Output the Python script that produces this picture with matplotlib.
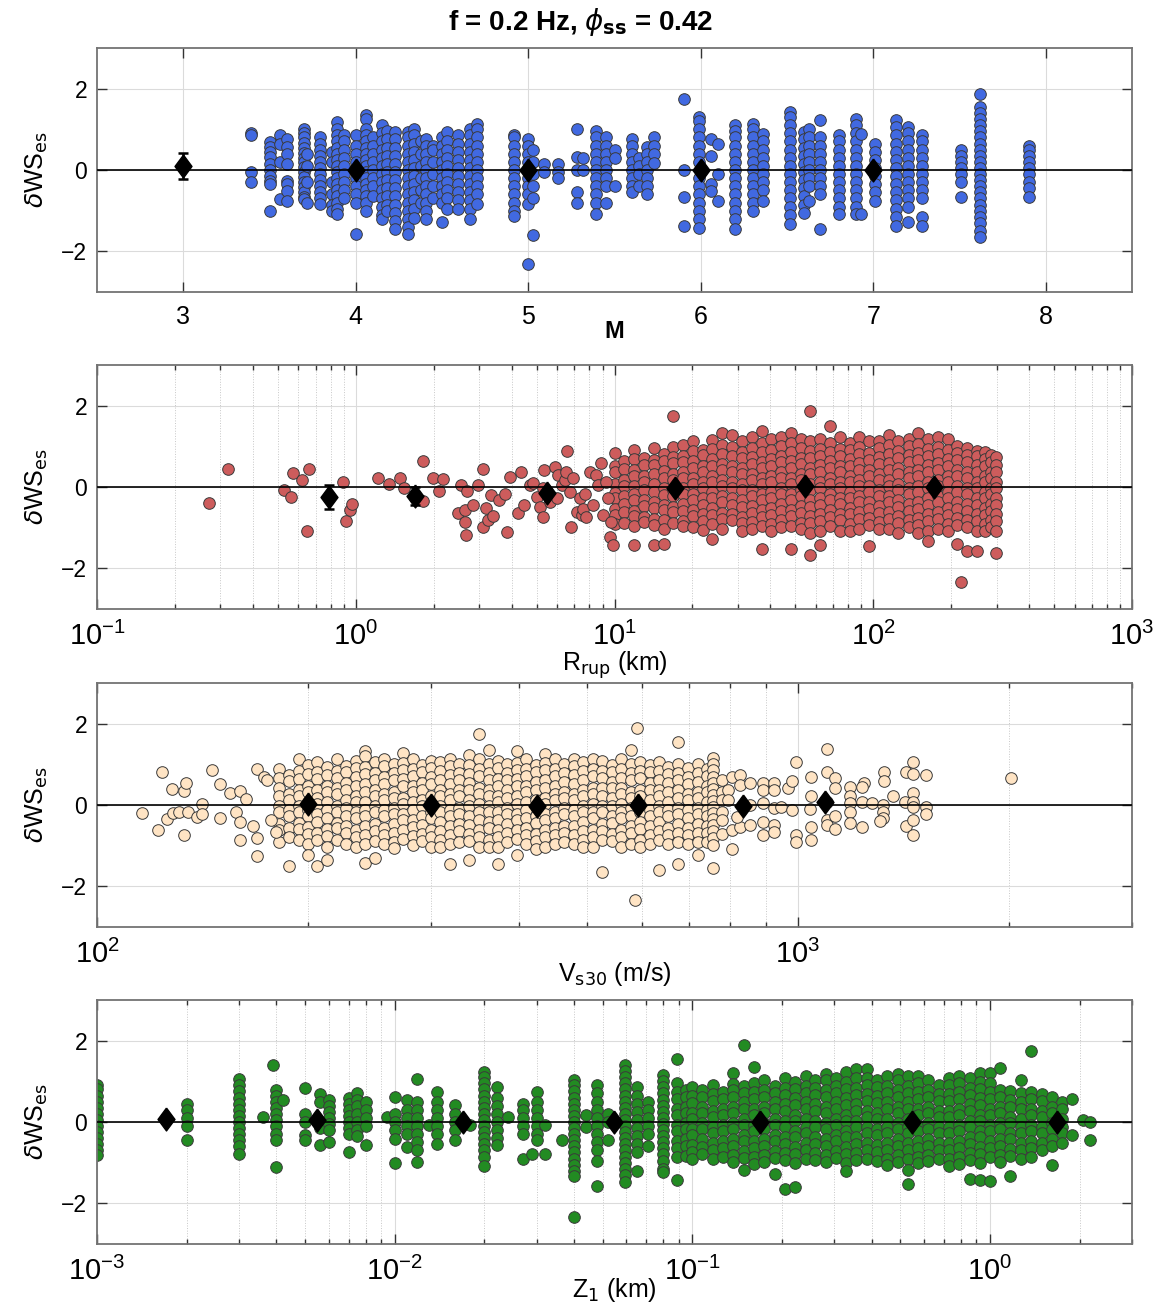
import numpy as np
import matplotlib
matplotlib.use("Agg")
import matplotlib.pyplot as plt
from matplotlib.ticker import LogLocator, NullFormatter

plt.rcParams["font.family"] = ["Liberation Sans", "DejaVu Sans"]
plt.rcParams["mathtext.fontset"] = "dejavusans"

# ---------------- panel 1: M (columns of residuals per magnitude) ----------------
mag_cols = [
    (3.39, [0.9, 0.86, -0.06, -0.3]),
    (3.50, [0.68, 0.56, 0.44, 0.31, 0.15, 0.0, -0.14, -0.26, -0.35, -1.02]),
    (3.56, [0.85, 0.64, 0.19, -0.72]),
    (3.60, [0.77, 0.56, 0.4, 0.15, -0.26, -0.35, -0.51, -0.77]),
    (3.70, [1.0, 0.9, 0.8, 0.66, 0.55, 0.42, 0.3, 0.2, 0.08, -0.05, -0.18, -0.3, -0.42, -0.55, -0.66, -0.72]),
    (3.72, [0.4, 0.1, -0.3, -0.8]),
    (3.79, [0.8, 0.65, 0.5, 0.35, 0.2, 0.05, -0.1, -0.25, -0.4, -0.55, -0.7, -0.84]),
    (3.86, [0.45, 0.2, -0.3, -0.6, -0.85, -1.0]),
    (3.89, [1.18, 1.0, 0.85, 0.7, 0.55, 0.4, 0.25, 0.1, -0.05, -0.2, -0.35, -0.5, -0.65, -0.8, -0.95, -1.09]),
    (3.93, [0.85, 0.7, 0.5, 0.3, 0.1, -0.1, -0.3, -0.5, -0.7]),
    (4.00, [0.85, 0.6, 0.4, 0.2, -0.2, -0.4, -0.6, -0.8, -1.58]),
    (4.06, [1.34, 1.25, 1.0, 0.85, 0.7, 0.55, 0.4, 0.25, 0.1, -0.05, -0.2, -0.35, -0.5, -0.65, -0.8, -1.0]),
    (4.10, [0.8, 0.6, 0.4, 0.2, 0.0, -0.2, -0.4, -0.63]),
    (4.15, [1.1, 0.9, 0.7, 0.5, 0.3, 0.1, -0.1, -0.3, -0.5, -0.7, -0.9, -1.1, -1.2]),
    (4.18, [0.95, 0.75, 0.55, 0.35, 0.15, -0.05, -0.25, -0.45, -0.65, -0.85, -1.0]),
    (4.23, [0.93, 0.75, 0.55, 0.35, 0.15, -0.05, -0.25, -0.45, -0.65, -0.85, -1.05, -1.25, -1.46]),
    (4.30, [0.93, 0.8, 0.6, 0.4, 0.2, 0.0, -0.2, -0.4, -0.6, -0.8, -1.0, -1.2, -1.4, -1.58]),
    (4.34, [1.0, 0.85, 0.65, 0.45, 0.25, 0.05, -0.15, -0.35, -0.55, -0.75, -0.95, -1.17]),
    (4.38, [0.7, 0.4, 0.1, -0.2, -0.5, -0.8]),
    (4.41, [0.77, 0.6, 0.4, 0.2, 0.0, -0.2, -0.4, -0.6, -0.8, -1.0, -1.21]),
    (4.45, [0.6, 0.5, 0.2, -0.1, -0.4, -0.7]),
    (4.50, [0.8, 0.6, 0.4, 0.2, 0.0, -0.2, -0.4, -0.6, -0.8, -1.29]),
    (4.53, [0.93, 0.7, 0.5, 0.3, 0.1, -0.1, -0.3, -0.5, -0.7, -0.96]),
    (4.59, [0.85, 0.65, 0.45, 0.25, 0.05, -0.15, -0.35, -0.55, -0.75, -0.96]),
    (4.66, [1.01, 0.85, 0.65, 0.45, 0.25, 0.05, -0.15, -0.35, -0.55, -0.75, -0.95, -1.21]),
    (4.70, [1.14, 1.0, 0.8, 0.6, 0.4, 0.2, 0.0, -0.2, -0.4, -0.6, -0.84]),
    (4.92, [0.85, 0.8, 0.6, 0.4, 0.2, 0.0, -0.2, -0.4, -0.6, -0.8, -1.0, -1.13]),
    (5.00, [0.77, 0.6, 0.4, 0.2, 0.0, -0.2, -0.4, -0.6, -0.84, -2.32]),
    (5.03, [0.5, 0.2, -0.1, -0.4, -0.68, -1.6]),
    (5.09, [0.15, -0.05]),
    (5.17, [0.15, -0.05, -0.2]),
    (5.28, [1.01, 0.32, 0.0, -0.55, -0.8]),
    (5.32, [0.3, 0.0]),
    (5.39, [0.97, 0.8, 0.6, 0.4, 0.2, 0.0, -0.2, -0.4, -0.6, -0.8, -1.09]),
    (5.45, [0.8, 0.6, 0.4, 0.2, 0.0, -0.2, -0.4, -0.8]),
    (5.50, [0.48, 0.3, -0.39]),
    (5.60, [0.77, 0.6, 0.4, 0.2, 0.0, -0.2, -0.4, -0.55]),
    (5.64, [0.3, 0.1, -0.1, -0.39]),
    (5.69, [0.56, 0.4, 0.2, 0.0, -0.2, -0.4, -0.59]),
    (5.73, [0.81, 0.6, 0.4, 0.18]),
    (5.90, [1.75, 0.0, -0.67, -1.37]),
    (5.99, [1.3, 1.2, 1.0, 0.8, 0.6, 0.4, 0.2, -0.2, -0.4, -0.6, -0.8, -1.0, -1.2, -1.42]),
    (6.06, [0.76, 0.35, -0.35, -0.51]),
    (6.10, [0.64, -0.1, -0.76]),
    (6.20, [1.1, 0.95, 0.8, 0.6, 0.4, 0.2, 0.0, -0.2, -0.4, -0.6, -0.8, -1.0, -1.2, -1.46]),
    (6.30, [1.14, 1.0, 0.8, 0.6, 0.4, 0.2, 0.0, -0.2, -0.4, -0.6, -0.8, -1.0]),
    (6.36, [0.89, 0.7, 0.5, 0.3, 0.1, -0.1, -0.3, -0.5, -0.76]),
    (6.52, [1.42, 1.3, 1.1, 0.9, 0.7, 0.5, 0.3, 0.1, -0.1, -0.3, -0.5, -0.7, -0.9, -1.1, -1.33]),
    (6.60, [0.93, 0.75, 0.55, 0.35, 0.15, -0.05, -0.25, -0.45, -0.65, -0.85, -1.05]),
    (6.63, [1.0, 0.8, 0.6, 0.4, 0.2, 0.0, -0.2, -0.4, -0.76]),
    (6.69, [1.23, 0.8, 0.6, 0.4, 0.2, 0.0, -0.2, -0.4, -0.6, -1.46]),
    (6.80, [0.85, 0.7, 0.5, 0.3, 0.1, -0.1, -0.3, -0.5, -0.7, -0.9, -1.09]),
    (6.90, [1.26, 1.1, 0.9, 0.7, 0.5, 0.3, 0.1, -0.1, -0.3, -0.5, -0.7, -0.9, -1.09]),
    (6.93, [0.89, -1.09]),
    (7.01, [0.64, 0.45, 0.25, 0.05, -0.15, -0.35, -0.55, -0.76]),
    (7.13, [1.22, 1.05, 0.85, 0.65, 0.45, 0.25, 0.05, -0.15, -0.35, -0.55, -0.75, -0.95, -1.15, -1.37]),
    (7.20, [1.05, 0.9, 0.7, 0.5, 0.3, 0.1, -0.1, -0.3, -0.5, -0.7, -0.9, -1.29]),
    (7.28, [0.85, 0.7, 0.5, 0.3, 0.1, -0.1, -0.3, -0.5, -0.7, -1.15, -1.37]),
    (7.51, [0.48, 0.35, 0.2, 0.05, -0.1, -0.3, -0.67]),
    (7.62, [1.88, 1.55, 1.4, 1.25, 1.1, 0.95, 0.8, 0.65, 0.5, 0.35, 0.2, 0.05, -0.1, -0.25,
            -0.4, -0.55, -0.7, -0.85, -1.0, -1.15, -1.3, -1.5, -1.66]),
    (7.90, [0.6, 0.5, 0.35, 0.2, 0.05, -0.1, -0.3, -0.45, -0.67]),
]
mag_bin_x = [3, 4, 5, 6, 7]
mag_bin_y = [0.09, 0.0, 0.0, 0.0, 0.0]
mag_bin_err = [0.32, 0.04, 0.05, 0.04, 0.04]

# ---------------- panel 2: Rrup (km) ----------------
rrup_pts = [
    (0.27, -0.40), (0.32, 0.44), (0.53, -0.07), (0.56, -0.24), (0.57, 0.34), (0.62, 0.17),
    (0.65, -1.09), (0.66, 0.44), (0.89, 0.13), (0.92, -0.84), (0.95, -0.57), (0.97, -0.42),
    (1.22, 0.23), (1.35, 0.08), (1.48, 0.21), (1.54, -0.02), (1.82, 0.65), (1.82, -0.35),
    (1.98, 0.23), (2.10, -0.10), (2.18, 0.20), (2.49, -0.63), (2.56, 0.05), (2.64, -0.57),
    (2.65, -0.87), (2.66, -1.17), (2.70, -0.10), (2.84, -0.44), (2.98, 0.05), (3.09, 0.44),
    (3.11, -0.98), (3.18, -0.51), (3.25, -0.81), (3.33, -0.20), (3.40, -0.71), (3.58, -0.32),
    (3.77, -0.16), (3.83, -1.10), (3.93, 0.24), (4.23, -0.63), (4.34, 0.38), (4.47, -0.44),
    (4.71, 0.05), (4.85, 0.09), (5.00, -0.24), (5.15, -0.49), (5.27, -0.73), (5.31, -0.03),
    (5.36, 0.42), (5.62, -0.36), (5.89, 0.50), (5.97, -0.28), (6.07, 0.30), (6.24, 0.05),
    (6.43, 0.17), (6.49, 0.38), (6.53, 0.89), (6.72, -0.12), (6.80, -0.99), (6.90, 0.21),
    (7.13, -0.61), (7.34, -0.28), (7.46, -0.69), (7.55, -0.53), (7.68, -0.16), (7.78, -0.73),
    (8.03, 0.38), (8.27, -0.44), (8.50, 0.30), (8.65, 0.05), (8.90, 0.58), (9.04, -0.69),
    (9.30, 0.13), (9.46, -0.28), (9.60, -1.23), (9.73, -0.86), (9.90, -1.43), (218, -2.34),
]
rrup_cols = [
    (10.0, [0.83, 0.52, 0.38, 0.07, -0.14, -0.27, -0.53, -0.68, -0.91]),
    (10.9, [0.63, 0.44, 0.17, 0.03, -0.22, -0.41, -0.62, -0.88]),
    (11.9, [0.91, 0.68, 0.41, 0.28, 0.02, -0.18, -0.33, -0.58, -0.72, -0.97, -1.43]),
    (13.0, [0.72, 0.54, 0.27, 0.12, -0.08, -0.33, -0.47, -0.73, -0.86]),
    (14.2, [0.97, 0.66, 0.53, 0.31, 0.08, -0.12, -0.38, -0.52, -0.78, -0.93, -1.43]),
    (15.5, [0.82, 0.63, 0.39, 0.22, -0.03, -0.19, -0.43, -0.57, -0.82, -1.02, -1.39]),
    (16.9, [1.74, 0.98, 0.73, 0.58, 0.33, 0.17, -0.07, -0.23, -0.48, -0.62, -0.88]),
    (18.4, [1.03, 0.77, 0.62, 0.37, 0.22, -0.02, -0.17, -0.42, -0.58, -0.83, -0.97]),
    (20.1, [1.12, 0.88, 0.63, 0.48, 0.23, 0.08, -0.18, -0.32, -0.57, -0.72, -0.98]),
    (21.9, [0.92, 0.78, 0.52, 0.37, 0.12, -0.03, -0.28, -0.43, -0.67, -0.83, -1.06]),
    (23.9, [1.16, 0.93, 0.68, 0.52, 0.27, 0.12, -0.12, -0.27, -0.52, -0.68, -0.92, -1.27]),
    (26.1, [1.33, 1.03, 0.82, 0.57, 0.42, 0.18, 0.03, -0.22, -0.38, -0.63, -0.78, -1.02]),
    (28.5, [1.28, 0.98, 0.77, 0.52, 0.37, 0.13, -0.03, -0.27, -0.43, -0.67, -0.82]),
    (31.1, [1.12, 0.87, 0.72, 0.47, 0.32, 0.07, -0.08, -0.33, -0.48, -0.73, -0.88, -1.07]),
    (33.9, [1.22, 0.97, 0.73, 0.57, 0.33, 0.17, -0.07, -0.22, -0.47, -0.63, -0.87, -1.02]),
    (37.0, [1.37, 1.08, 0.87, 0.62, 0.47, 0.22, 0.07, -0.17, -0.33, -0.57, -0.73, -0.97, -1.53]),
    (40.4, [1.17, 0.92, 0.68, 0.52, 0.28, 0.12, -0.12, -0.28, -0.52, -0.68, -0.92, -1.08]),
    (44.0, [1.23, 1.02, 0.77, 0.62, 0.37, 0.22, -0.03, -0.18, -0.42, -0.58, -0.82, -0.98]),
    (48.0, [1.33, 1.08, 0.87, 0.63, 0.47, 0.23, 0.07, -0.17, -0.33, -0.57, -0.72, -0.97, -1.53]),
    (52.4, [1.18, 0.97, 0.72, 0.57, 0.32, 0.17, -0.08, -0.23, -0.47, -0.63, -0.88, -1.03]),
    (57.2, [1.86, 1.12, 0.88, 0.72, 0.48, 0.32, 0.08, -0.08, -0.32, -0.48, -0.72, -0.88, -1.12, -1.66]),
    (62.4, [1.17, 0.93, 0.77, 0.53, 0.37, 0.13, -0.03, -0.27, -0.43, -0.67, -0.83, -1.07, -1.43]),
    (68.1, [1.51, 1.08, 0.87, 0.63, 0.47, 0.23, 0.07, -0.17, -0.33, -0.57, -0.73, -0.97]),
    (74.3, [1.22, 0.93, 0.77, 0.52, 0.37, 0.12, -0.03, -0.27, -0.42, -0.67, -0.82, -1.07]),
    (81.0, [1.08, 0.92, 0.68, 0.52, 0.28, 0.12, -0.12, -0.27, -0.52, -0.67, -0.92, -1.08]),
    (88.4, [1.22, 0.98, 0.82, 0.58, 0.42, 0.18, 0.02, -0.22, -0.38, -0.62, -0.78, -1.02]),
    (96.5, [1.12, 0.83, 0.67, 0.43, 0.27, 0.03, -0.13, -0.37, -0.53, -0.77, -0.93, -1.45]),
    (105, [1.13, 0.97, 0.73, 0.57, 0.33, 0.17, -0.07, -0.23, -0.47, -0.63, -0.87, -1.03]),
    (115, [1.28, 1.03, 0.82, 0.58, 0.42, 0.18, 0.02, -0.22, -0.38, -0.62, -0.78, -1.02]),
    (125, [1.12, 0.88, 0.72, 0.48, 0.32, 0.08, -0.08, -0.32, -0.48, -0.72, -0.88, -1.12]),
    (137, [1.18, 1.02, 0.78, 0.62, 0.38, 0.22, -0.02, -0.18, -0.42, -0.58, -0.82, -0.98]),
    (149, [1.33, 1.07, 0.83, 0.67, 0.43, 0.27, 0.03, -0.13, -0.37, -0.53, -0.77, -0.93, -1.12]),
    (163, [1.17, 0.93, 0.77, 0.53, 0.37, 0.13, -0.03, -0.27, -0.43, -0.67, -0.83, -1.07, -1.33]),
    (178, [1.22, 0.98, 0.82, 0.58, 0.42, 0.18, 0.02, -0.22, -0.38, -0.62, -0.78, -1.02]),
    (194, [1.18, 0.92, 0.68, 0.52, 0.28, 0.12, -0.12, -0.28, -0.52, -0.68, -0.92, -1.08]),
    (211, [1.02, 0.83, 0.67, 0.43, 0.27, 0.03, -0.13, -0.37, -0.53, -0.77, -0.93, -1.39]),
    (231, [0.97, 0.78, 0.62, 0.38, 0.22, -0.02, -0.18, -0.42, -0.58, -0.82, -0.98, -1.58]),
    (252, [0.88, 0.77, 0.53, 0.37, 0.13, -0.03, -0.27, -0.43, -0.67, -0.83, -1.07, -1.58]),
    (270, [0.86, 0.68, 0.52, 0.28, 0.12, -0.12, -0.28, -0.52, -0.68, -0.92, -1.08]),
    (285, [0.78, 0.62, 0.38, 0.22, -0.02, -0.18, -0.42, -0.58, -0.82, -0.98]),
    (297, [0.74, 0.53, 0.37, 0.13, -0.03, -0.27, -0.43, -0.67, -0.83, -1.07, -1.61]),
]
rrup_bin_x = [0.79, 1.69, 5.46, 17.2, 54.6, 172]
rrup_bin_y = [-0.25, -0.22, -0.15, -0.02, 0.02, 0.01]
rrup_bin_err = [0.29, 0.22, 0.08, 0.03, 0.02, 0.02]

# ---------------- panel 3: Vs30 (m/s) ----------------
vs30_pts = [
    (116, -0.19), (122, -0.62), (124, 0.80), (126, -0.35), (128, 0.40), (128.3, -0.19),
    (131, -0.16), (133, 0.35), (133, -0.74), (134, 0.53), (135, -0.16), (139, -0.29),
    (141, 0.02), (141, -0.23), (146, 0.85), (150, 0.51), (150, -0.31), (155, 0.30),
    (158, -0.16), (160, 0.35), (160, -0.41), (160, -0.85), (163, 0.14), (167, -0.52),
    (169, 0.88), (169, -0.80), (169, -1.26), (173, 0.70), (175, 0.62), (177, -0.37),
    (180, -0.66), (589, 1.89), (586, -2.33),
    (796, 0.37), (796, 0.12), (805, 0.70), (805, -0.62), (805, -1.09), (828, 0.74),
    (828, 0.49), (828, -0.53), (818, -0.29), (855, 0.53), (855, -0.49), (855, 0.0),
    (893, 0.53), (893, 0.37), (893, 0.04), (893, -0.41), (893, -0.74), (926, 0.55),
    (926, 0.37), (926, -0.08), (926, -0.49), (926, -0.66), (948, -0.04), (968, 0.41),
    (980, 0.58), (983, -0.12), (995, 1.07), (995, -0.74), (995, -0.91), (1045, 0.70),
    (1045, 0.21), (1045, -0.55), (1045, -0.85), (1040, -0.11), (1100, 1.38), (1100, 0.82),
    (1100, 0.08), (1100, -0.37), (1100, -0.49), (1131, 0.67), (1131, 0.41), (1131, -0.27),
    (1131, -0.60), (1188, 0.45), (1188, 0.21), (1188, 0.04), (1188, -0.16), (1188, -0.45),
    (1242, 0.53), (1236, 0.44), (1236, 0.08), (1236, -0.55), (1275, 0.06), (1327, 0.80),
    (1327, 0.58), (1325, 0.0), (1325, -0.16), (1325, -0.33), (1312, -0.39), (1369, 0.21),
    (1427, 0.80), (1427, -0.52), (1425, 0.08), (1462, 1.05), (1462, 0.77), (1462, 0.29),
    (1462, 0.08), (1462, -0.06), (1462, -0.37), (1462, -0.74), (1523, 0.74), (1523, -0.04),
    (1523, -0.23), (2016, 0.67),
]
vs30_cols = [
    (182, [0.88, 0.67, 0.42, 0.23, -0.03, -0.17, -0.46, -0.62, -0.92]),
    (188, [0.73, 0.58, 0.27, 0.12, -0.13, -0.28, -0.57, -0.78, -1.5]),
    (194, [1.13, 0.83, 0.63, 0.37, 0.22, -0.03, -0.18, -0.43, -0.58, -0.87]),
    (200, [0.98, 0.77, 0.47, 0.33, 0.07, -0.12, -0.27, -0.53, -0.72, -0.97, -1.22]),
    (206, [1.07, 0.82, 0.63, 0.38, 0.17, 0.03, -0.23, -0.42, -0.68, -0.87, -1.5]),
    (213, [0.93, 0.73, 0.48, 0.32, 0.07, -0.13, -0.33, -0.58, -0.77, -1.02, -1.36]),
    (220, [1.12, 0.83, 0.67, 0.42, 0.27, -0.03, -0.18, -0.43, -0.57, -0.87]),
    (227, [0.97, 0.82, 0.53, 0.37, 0.12, -0.07, -0.28, -0.52, -0.68, -0.97]),
    (234, [1.08, 0.92, 0.68, 0.47, 0.22, 0.07, -0.17, -0.33, -0.62, -0.78, -1.02]),
    (241, [1.34, 1.21, 0.93, 0.77, 0.52, 0.32, 0.08, -0.12, -0.28, -0.52, -0.73, -0.97, -1.42]),
    (249, [1.07, 0.78, 0.62, 0.38, 0.22, -0.03, -0.18, -0.47, -0.63, -0.88, -1.31]),
    (257, [1.13, 0.97, 0.68, 0.52, 0.27, 0.12, -0.12, -0.28, -0.57, -0.73, -0.97]),
    (265, [1.02, 0.78, 0.62, 0.33, 0.17, -0.07, -0.23, -0.47, -0.68, -0.92, -1.06]),
    (273, [1.29, 1.03, 0.87, 0.63, 0.47, 0.18, 0.02, -0.22, -0.38, -0.62, -0.83]),
    (282, [1.12, 0.88, 0.72, 0.47, 0.32, 0.07, -0.13, -0.37, -0.53, -0.77, -0.98]),
    (291, [0.98, 0.82, 0.53, 0.37, 0.13, -0.03, -0.27, -0.48, -0.72, -0.88]),
    (300, [1.08, 0.92, 0.68, 0.52, 0.23, 0.07, -0.17, -0.33, -0.62, -0.78, -1.02]),
    (309, [1.07, 0.83, 0.62, 0.37, 0.22, -0.03, -0.18, -0.42, -0.63, -0.87, -1.03]),
    (319, [1.13, 0.97, 0.73, 0.52, 0.28, 0.12, -0.12, -0.28, -0.52, -0.73, -0.97, -1.44]),
    (329, [1.02, 0.78, 0.62, 0.38, 0.22, -0.07, -0.23, -0.47, -0.63, -0.92]),
    (340, [1.23, 0.98, 0.77, 0.53, 0.37, 0.12, -0.03, -0.27, -0.48, -0.72, -0.88, -1.34]),
    (351, [1.75, 1.12, 0.88, 0.72, 0.43, 0.27, 0.03, -0.17, -0.38, -0.62, -0.78, -1.02]),
    (362, [1.36, 1.02, 0.78, 0.62, 0.37, 0.22, -0.03, -0.18, -0.42, -0.57, -0.87, -1.03]),
    (373, [1.08, 0.92, 0.63, 0.47, 0.22, 0.07, -0.17, -0.38, -0.62, -0.78, -1.02, -1.44]),
    (385, [1.02, 0.78, 0.62, 0.38, 0.17, -0.07, -0.23, -0.47, -0.68, -0.92]),
    (397, [1.32, 1.03, 0.87, 0.63, 0.47, 0.22, 0.02, -0.22, -0.38, -0.62, -0.83, -1.23]),
    (410, [1.12, 0.88, 0.72, 0.48, 0.32, 0.08, -0.12, -0.33, -0.57, -0.73, -0.97]),
    (423, [0.98, 0.82, 0.57, 0.37, 0.12, -0.03, -0.27, -0.43, -0.72, -0.88, -1.07]),
    (436, [1.26, 1.03, 0.87, 0.62, 0.42, 0.17, 0.02, -0.22, -0.38, -0.62, -0.78, -1.02]),
    (450, [1.12, 0.88, 0.72, 0.48, 0.28, 0.12, -0.17, -0.33, -0.57, -0.73, -0.97]),
    (464, [1.02, 0.78, 0.57, 0.33, 0.17, -0.07, -0.23, -0.52, -0.68, -0.92]),
    (479, [1.13, 0.97, 0.73, 0.52, 0.27, 0.12, -0.12, -0.28, -0.52, -0.73, -0.97]),
    (494, [1.07, 0.83, 0.62, 0.37, 0.22, -0.03, -0.18, -0.42, -0.63, -0.87, -1.03]),
    (510, [1.12, 0.88, 0.72, 0.43, 0.27, 0.03, -0.17, -0.33, -0.62, -0.78, -1.02]),
    (526, [1.09, 0.83, 0.67, 0.42, 0.22, -0.03, -0.18, -0.47, -0.63, -0.87, -1.65]),
    (543, [0.98, 0.82, 0.57, 0.42, 0.17, -0.03, -0.27, -0.43, -0.72, -0.88]),
    (560, [1.12, 0.88, 0.67, 0.43, 0.27, 0.03, -0.17, -0.33, -0.62, -0.78, -1.02]),
    (578, [1.36, 1.02, 0.78, 0.62, 0.33, 0.17, -0.07, -0.28, -0.52, -0.68, -0.97]),
    (596, [1.07, 0.83, 0.67, 0.38, 0.22, -0.03, -0.18, -0.42, -0.58, -0.87, -1.03]),
    (615, [0.98, 0.82, 0.53, 0.37, 0.12, -0.12, -0.28, -0.52, -0.73, -0.97]),
    (634, [1.07, 0.83, 0.62, 0.38, 0.22, -0.03, -0.18, -0.42, -0.63, -0.87, -1.6]),
    (654, [0.93, 0.77, 0.53, 0.32, 0.08, -0.12, -0.28, -0.57, -0.73, -0.97]),
    (675, [1.54, 1.02, 0.78, 0.62, 0.37, 0.17, -0.07, -0.23, -0.47, -0.68, -0.92, -1.44]),
    (697, [0.92, 0.68, 0.52, 0.28, 0.12, -0.12, -0.33, -0.57, -0.73, -0.97]),
    (720, [1.02, 0.78, 0.57, 0.33, 0.17, -0.07, -0.23, -0.47, -0.68, -0.92, -1.23]),
    (742, [0.88, 0.72, 0.48, 0.32, 0.08, -0.12, -0.28, -0.52, -0.68, -0.92]),
    (758, [1.15, 1.0, 0.85, 0.7, 0.55, 0.4, 0.25, 0.1, -0.05, -0.2, -0.35, -0.5, -0.65, -0.8, -0.99, -1.56]),
    (780, [0.62, 0.33, 0.12, -0.17, -0.38, -0.72]),
]
vs30_bin_x = [200, 300, 424, 591, 836, 1094]
vs30_bin_y = [0.02, 0.0, -0.02, 0.0, -0.02, 0.08]
vs30_bin_err = [0.04, 0.03, 0.03, 0.03, 0.04, 0.08]

# ---------------- panel 4: Z1 (km) ----------------
z1_pts = [(1.89, 0.57), (1.89, -0.33), (2.06, 0.04), (2.16, 0.0), (2.16, -0.45)]
z1_cols = [
    (0.001, [0.9, 0.8, 0.65, 0.5, 0.35, 0.2, 0.05, -0.1, -0.25, -0.4, -0.55, -0.7, -0.82]),
    (0.002, [0.44, 0.3, 0.1, -0.1, -0.45]),
    (0.003, [1.05, 0.9, 0.75, 0.6, 0.45, 0.3, 0.15, 0.0, -0.15, -0.3, -0.45, -0.6, -0.78]),
    (0.0036, [0.12]),
    (0.0039, [1.4]),
    (0.004, [0.78, 0.65, 0.5, 0.35, 0.2, 0.05, -0.1, -0.3, -0.45, -1.11]),
    (0.0042, [0.53]),
    (0.005, [0.84, 0.2, 0.0, -0.33, -0.45]),
    (0.0056, [0.68, 0.5, -0.16, -0.56]),
    (0.006, [0.53, 0.4, 0.25, 0.1, -0.05, -0.2, -0.49]),
    (0.007, [0.6, 0.45, 0.3, 0.15, 0.0, -0.15, -0.3, -0.74]),
    (0.0075, [0.72, 0.55, 0.4, 0.2, 0.0, -0.2, -0.35]),
    (0.008, [0.5, 0.3, 0.1, -0.1, -0.57]),
    (0.0094, [0.12]),
    (0.010, [0.62, 0.2, 0.0, -0.2, -0.41, -1.01]),
    (0.011, [0.53, 0.3, 0.1, -0.1, -0.3, -0.62]),
    (0.0119, [1.05, 0.49, 0.3, 0.1, -0.1, -0.3, -0.5, -0.7, -0.99]),
    (0.013, [-0.08]),
    (0.0139, [0.74, 0.5, 0.3, 0.1, -0.1, -0.3, -0.53]),
    (0.0159, [0.41, 0.2, 0.0, -0.2, -0.45]),
    (0.0179, [-0.08]),
    (0.020, [1.23, 1.1, 0.95, 0.8, 0.65, 0.5, 0.35, 0.2, 0.05, -0.1, -0.25, -0.4, -0.55, -0.7, -0.85, -1.09]),
    (0.022, [0.85, 0.6, 0.4, 0.2, 0.0, -0.2, -0.4, -0.57]),
    (0.024, [0.12]),
    (0.027, [0.45, 0.3, 0.1, -0.1, -0.3, -0.9]),
    (0.029, [-0.8]),
    (0.030, [0.74, 0.5, 0.3, 0.1, -0.1, -0.3, -0.45]),
    (0.032, [-0.08, -0.8]),
    (0.0365, [-0.44]),
    (0.040, [1.03, 0.9, 0.75, 0.6, 0.45, 0.3, 0.15, 0.0, -0.15, -0.3, -0.45, -0.6, -0.75, -0.9,
             -1.05, -1.2, -1.32, -2.33]),
    (0.044, [0.16, -0.12]),
    (0.048, [0.9, 0.7, 0.5, 0.3, 0.1, -0.1, -0.3, -0.5, -0.7, -0.95, -1.58]),
    (0.052, [0.2, 0.0, -0.45]),
    (0.0596, [1.4, 1.25, 1.1, 0.95, 0.8, 0.65, 0.5, 0.35, 0.2, 0.05, -0.1, -0.25, -0.4, -0.55,
              -0.7, -0.85, -1.0, -1.15, -1.3, -1.47]),
    (0.065, [0.85, 0.65, 0.45, 0.25, 0.05, -0.15, -0.35, -0.55, -0.75, -1.2]),
    (0.071, [0.5, 0.3, 0.1, -0.1, -0.3, -0.6]),
    (0.0796, [1.15, 1.0, 0.85, 0.7, 0.55, 0.4, 0.25, 0.1, -0.05, -0.2, -0.35, -0.5, -0.65, -0.8,
              -0.95, -1.15, -1.23]),
    (0.089, [1.54, 0.97, 0.73, 0.57, 0.33, 0.17, -0.07, -0.23, -0.47, -0.63, -0.87, -1.42]),
    (0.095, [0.78, 0.62, 0.38, 0.22, -0.02, -0.18, -0.42, -0.58, -0.83]),
    (0.100, [0.86, 0.63, 0.47, 0.23, 0.07, -0.17, -0.33, -0.57, -0.73, -0.92]),
    (0.108, [0.78, 0.62, 0.37, 0.22, -0.03, -0.18, -0.42, -0.62, -0.78]),
    (0.117, [0.92, 0.68, 0.52, 0.28, 0.12, -0.12, -0.28, -0.52, -0.68, -0.92]),
    (0.127, [0.73, 0.57, 0.33, 0.17, -0.07, -0.23, -0.47, -0.63, -0.87]),
    (0.137, [1.21, 0.93, 0.78, 0.62, 0.38, 0.22, -0.02, -0.18, -0.42, -0.58, -0.82, -0.98]),
    (0.149, [1.89, 0.88, 0.72, 0.48, 0.32, 0.08, -0.08, -0.32, -0.48, -0.72, -0.88, -1.19]),
    (0.161, [1.36, 0.97, 0.73, 0.57, 0.33, 0.17, -0.07, -0.23, -0.47, -0.63, -0.87, -1.03]),
    (0.174, [1.02, 0.78, 0.62, 0.38, 0.22, -0.02, -0.18, -0.42, -0.58, -0.82, -0.98]),
    (0.189, [0.88, 0.72, 0.48, 0.32, 0.08, -0.08, -0.32, -0.48, -0.72, -0.88, -1.28]),
    (0.204, [1.07, 0.83, 0.67, 0.43, 0.27, 0.03, -0.13, -0.37, -0.53, -0.77, -0.93, -1.65]),
    (0.221, [0.98, 0.82, 0.58, 0.42, 0.18, 0.02, -0.22, -0.38, -0.62, -0.78, -1.02, -1.6]),
    (0.240, [1.12, 0.88, 0.72, 0.48, 0.32, 0.08, -0.12, -0.28, -0.52, -0.68, -0.92]),
    (0.259, [1.02, 0.83, 0.67, 0.43, 0.27, 0.03, -0.13, -0.37, -0.53, -0.77, -0.93]),
    (0.281, [1.18, 1.02, 0.78, 0.62, 0.38, 0.22, -0.02, -0.18, -0.42, -0.58, -0.82, -0.98]),
    (0.304, [1.07, 0.88, 0.72, 0.48, 0.32, 0.08, -0.08, -0.32, -0.48, -0.72, -0.88]),
    (0.329, [1.23, 0.98, 0.82, 0.58, 0.42, 0.18, 0.02, -0.22, -0.38, -0.62, -0.78, -1.02, -1.21]),
    (0.356, [1.3, 1.07, 0.83, 0.67, 0.43, 0.27, 0.03, -0.13, -0.37, -0.53, -0.77, -0.93]),
    (0.386, [1.29, 1.08, 0.92, 0.68, 0.52, 0.28, 0.12, -0.12, -0.28, -0.52, -0.68, -0.92]),
    (0.418, [1.03, 0.87, 0.63, 0.47, 0.23, 0.07, -0.17, -0.33, -0.57, -0.73, -0.97]),
    (0.452, [1.12, 0.88, 0.72, 0.48, 0.32, 0.08, -0.12, -0.28, -0.52, -0.68, -0.92, -1.07]),
    (0.490, [1.18, 1.02, 0.78, 0.62, 0.38, 0.22, -0.02, -0.18, -0.42, -0.58, -0.82, -0.98]),
    (0.530, [1.12, 0.88, 0.72, 0.48, 0.32, 0.08, -0.12, -0.28, -0.52, -0.68, -0.92, -1.18, -1.52]),
    (0.574, [1.13, 0.97, 0.73, 0.57, 0.33, 0.17, -0.07, -0.23, -0.47, -0.63, -0.87, -1.02]),
    (0.621, [1.02, 0.78, 0.62, 0.38, 0.22, -0.02, -0.18, -0.42, -0.58, -0.82, -0.97]),
    (0.673, [0.92, 0.68, 0.52, 0.28, 0.12, -0.12, -0.28, -0.52, -0.68, -0.92]),
    (0.728, [1.08, 0.92, 0.68, 0.52, 0.28, 0.12, -0.12, -0.28, -0.52, -0.68, -0.92, -1.08]),
    (0.789, [1.13, 0.97, 0.73, 0.57, 0.33, 0.17, -0.07, -0.23, -0.47, -0.63, -0.87, -1.03]),
    (0.854, [1.07, 0.83, 0.67, 0.43, 0.27, 0.03, -0.13, -0.37, -0.53, -0.77, -0.93, -1.4]),
    (0.924, [1.21, 0.98, 0.82, 0.58, 0.42, 0.18, 0.02, -0.22, -0.38, -0.62, -0.78, -1.02, -1.42]),
    (1.00, [1.2, 0.97, 0.73, 0.57, 0.33, 0.17, -0.07, -0.23, -0.47, -0.63, -0.87, -1.45]),
    (1.08, [1.32, 0.78, 0.62, 0.38, 0.22, -0.02, -0.18, -0.42, -0.58, -0.82, -0.98]),
    (1.17, [0.77, 0.53, 0.37, 0.13, -0.03, -0.27, -0.43, -0.67, -0.83, -1.34]),
    (1.27, [1.03, 0.72, 0.48, 0.32, 0.08, -0.12, -0.28, -0.52, -0.68, -0.92]),
    (1.37, [1.75, 0.73, 0.57, 0.33, 0.17, -0.07, -0.23, -0.47, -0.63, -0.87]),
    (1.49, [0.68, 0.52, 0.28, 0.12, -0.12, -0.28, -0.52, -0.68]),
    (1.61, [0.62, 0.38, 0.22, -0.02, -0.18, -0.42, -0.58, -1.06]),
    (1.74, [0.48, 0.32, 0.08, -0.12, -0.28, -0.52]),
]
z1_bin_x = [0.0017, 0.0055, 0.0169, 0.0547, 0.169, 0.547, 1.68]
z1_bin_y = [0.07, 0.04, 0.0, -0.01, -0.01, 0.0, 0.0]
z1_bin_err = [0.1, 0.06, 0.05, 0.04, 0.02, 0.02, 0.03]

DIAMOND = [(0, 1), (0.74, 0), (0, -1), (-0.74, 0), (0, 1)]


def flatten(cols, pts=()):
    xs, ys = [], []
    for x, col in cols:
        xs += [x] * len(col)
        ys += list(col)
    for x, y in pts:
        xs.append(x)
        ys.append(y)
    return np.array(xs), np.array(ys)


def draw_panel(ax, x, y, color, bx, by, berr):
    ax.scatter(x, y, s=70, c=color, edgecolors="#3a3a3a", linewidths=0.7, zorder=2)
    ax.axhline(0, color="k", lw=1.2, zorder=3)
    ax.errorbar(bx, by, yerr=berr, fmt="none", ecolor="k", elinewidth=1.8,
                capsize=3.6, capthick=1.8, zorder=4)
    ax.plot(bx, by, ls="none", marker=DIAMOND, ms=16.5, mfc="k", mec="k", zorder=5)


def style_axis(ax, log, xsize):
    ax.set_ylim(-3, 3)
    ax.set_yticks([-2, 0, 2])
    ax.tick_params(which="both", direction="in", top=True, right=True, color="0.2", width=1)
    ax.tick_params(which="major", length=7)
    ax.tick_params(which="minor", length=3.5)
    ax.tick_params(axis="y", labelsize=16.5, pad=7)
    ax.tick_params(axis="x", labelsize=xsize, pad=9.5)
    ax.set_axisbelow(True)
    ax.grid(True, which="major", color="0.86", lw=0.8)
    if log:
        ax.set_xscale("log")
        ax.xaxis.set_major_locator(LogLocator(base=10, numticks=20))
        ax.xaxis.set_minor_locator(LogLocator(base=10, subs=np.arange(2, 10), numticks=100))
        ax.xaxis.set_minor_formatter(NullFormatter())
        ax.grid(True, which="minor", axis="x", color="0.78", lw=0.7, ls=":")
    for sp in ax.spines.values():
        sp.set_color("0.45")
        sp.set_linewidth(1.3)
    ax.set_ylabel(r"$\delta$WS$_{\rm es}$", fontsize=18)
    ax.yaxis.set_label_coords(-0.045, 0.5)


fig = plt.figure(figsize=(11.62, 13.14), dpi=100)
bottoms = [0.7778, 0.5365, 0.2945, 0.0533]
axes = [fig.add_axes([0.0835, b, 0.8907, 0.1857]) for b in bottoms]

ax = axes[0]
mx, my = flatten(mag_cols)
draw_panel(ax, mx, my, "#4169E1", mag_bin_x, mag_bin_y, mag_bin_err)
style_axis(ax, False, 18)
ax.set_xlim(2.5, 8.5)
ax.set_xticks([3, 4, 5, 6, 7, 8])
ax.set_xlabel("M", fontsize=17, fontweight="bold")
ax.xaxis.set_label_coords(0.5, -0.115)

ax = axes[1]
rx, ry = flatten(rrup_cols, rrup_pts)
draw_panel(ax, rx, ry, "#CD5C5C", rrup_bin_x, rrup_bin_y, rrup_bin_err)
style_axis(ax, True, 21)
ax.set_xlim(0.1, 1000)
ax.set_xlabel(r"R$_{\rm rup}$ (km)", fontsize=18)
ax.xaxis.set_label_coords(0.5, -0.165)

ax = axes[2]
vx, vy = flatten(vs30_cols, vs30_pts)
draw_panel(ax, vx, vy, "#FFE4C4", vs30_bin_x, vs30_bin_y, vs30_bin_err)
style_axis(ax, True, 21)
ax.set_xlim(100, 3000)
ax.set_xlabel(r"V$_{\rm s30}$ (m/s)", fontsize=18)
ax.xaxis.set_label_coords(0.5, -0.135)

ax = axes[3]
zx, zy = flatten(z1_cols, z1_pts)
draw_panel(ax, zx, zy, "#228B22", z1_bin_x, z1_bin_y, z1_bin_err)
style_axis(ax, True, 21)
ax.set_xlim(1e-3, 3)
ax.set_xlabel(r"Z$_{\rm 1}$ (km)", fontsize=18)
ax.xaxis.set_label_coords(0.5, -0.13)

fig.text(0.5, 1 - 30 / 1314, r"f = 0.2 Hz, $\phi_{\bf ss}$ = 0.42", ha="center",
         va="baseline", fontsize=20, fontweight="bold")

fig.savefig("out.png", dpi=100)
